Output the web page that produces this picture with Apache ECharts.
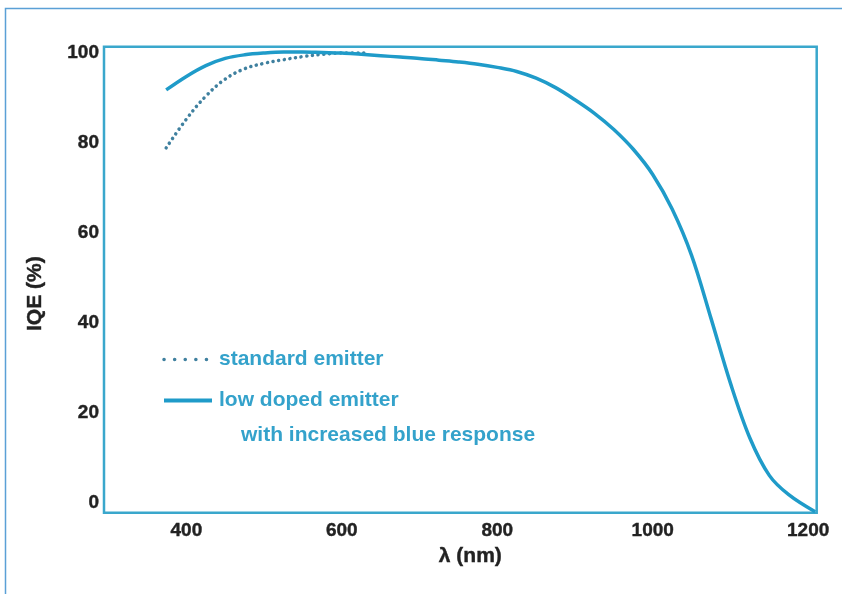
<!DOCTYPE html>
<html>
<head>
<meta charset="utf-8">
<script src="https://cdn.jsdelivr.net/npm/echarts@6/dist/echarts.min.js"></script>
<style>
    html, body {margin: 0; padding: 0; background: #fff;}
    #chart {width: 842px; height: 594px;}
</style>
</head>
<body>
<div id="chart"></div>
<script>
// wavelength (nm) / IQE (%)
var lowDoped = [
    [374, 91.8], [400, 94.8], [425, 97.2], [450, 98.8], [475, 99.6],
    [500, 100.0], [525, 100.2], [550, 100.2], [575, 100.1], [600, 100.0],
    [625, 99.7], [650, 99.4], [675, 99.1], [700, 98.8], [725, 98.4],
    [750, 98.0], [775, 97.5], [800, 96.8], [825, 95.9], [850, 94.4],
    [875, 92.3], [900, 89.6], [925, 86.6], [950, 83.0], [975, 78.6],
    [1000, 73.0], [1025, 65.3], [1050, 55.0], [1075, 41.0], [1100, 26.6],
    [1125, 14.4], [1150, 6.1], [1175, 1.8], [1209, -2.0]
];
var standard = [
    [374, 78.9], [400, 85.3], [425, 90.4], [450, 94.2], [475, 96.5],
    [500, 97.7], [525, 98.5], [550, 99.2], [575, 99.7], [600, 100.0],
    [630, 100.0]
];
var xTicks = [400, 600, 800, 1000, 1200];
var yTicks = [0, 20, 40, 60, 80, 100];

var lineBlue = '#1f9bc9';
var dotBlue = '#3f809f';
var boxBlue = '#3aa7cc';
var textBlue = '#34a2cb';
var labelFont = {
    fontFamily: 'Liberation Sans', fontWeight: 'bold', fontSize: 19, color: '#222',
    textBorderColor: '#222', textBorderWidth: 0.4
};
var nameFont = {
    fontFamily: 'Liberation Sans', fontWeight: 'bold', fontSize: 21, color: '#222',
    textBorderColor: '#222', textBorderWidth: 0.4
};

var chart = echarts.init(document.getElementById('chart'));
chart.setOption({
    backgroundColor: '#fff',
    animation: false,
    title: {
        text: 'with increased blue response',
        left: 236,
        top: 420,
        textStyle: {fontFamily: 'Liberation Sans', fontWeight: 'bold', fontSize: 21, color: textBlue}
    },
    legend: {
        orient: 'vertical',
        left: 157,
        top: 344,
        itemWidth: 48,
        itemHeight: 14,
        itemGap: 20,
        itemStyle: {opacity: 0},
        data: [
            {name: 'standard emitter', lineStyle: {width: 3.5, type: [0.1, 10.5], cap: 'round', color: dotBlue}},
            {name: 'low doped emitter', lineStyle: {width: 4, type: 'solid', color: lineBlue}}
        ],
        textStyle: {fontFamily: 'Liberation Sans', fontWeight: 'bold', fontSize: 21, color: textBlue, padding: [0, 0, 0, 2]}
    },
    graphic: [{
        type: 'polyline',
        shape: {points: [[5.5, 600], [5.5, 8.5], [850, 8.5]]},
        style: {stroke: '#5aa0d6', lineWidth: 1.5, fill: null},
        silent: true
    }],
    grid: {
        left: 104, top: 46.7, right: 25.3, bottom: 81.3,
        show: true, borderColor: boxBlue, borderWidth: 2.5, backgroundColor: 'transparent'
    },
    xAxis: {
        type: 'value',
        min: 294,
        max: 1211,
        name: 'λ (nm)',
        nameLocation: 'middle',
        nameGap: 30,
        nameTextStyle: Object.assign({padding: [0, 0, 0, 20]}, nameFont),
        axisLine: {show: false},
        axisTick: {show: false},
        splitLine: {show: false},
        axisLabel: Object.assign({
            customValues: xTicks, margin: 9,
            formatter: function (v) { return String(v); }
        }, labelFont)
    },
    yAxis: {
        type: 'value',
        min: -2.2,
        max: 101.4,
        name: 'IQE (%)',
        nameLocation: 'middle',
        nameGap: 58,
        nameTextStyle: Object.assign({padding: [0, 28, 0, 0]}, nameFont),
        axisLine: {show: false},
        axisTick: {show: false},
        splitLine: {show: false},
        axisLabel: Object.assign({customValues: yTicks, margin: 5}, labelFont)
    },
    series: [
        {
            name: 'standard emitter',
            type: 'line',
            data: standard,
            smooth: 0.4,
            symbol: 'none',
            color: dotBlue,
            lineStyle: {width: 3.5, type: [0.1, 5.6], cap: 'round', color: dotBlue},
            z: 2
        },
        {
            name: 'low doped emitter',
            type: 'line',
            data: lowDoped,
            smooth: 0.35,
            symbol: 'none',
            color: lineBlue,
            lineStyle: {width: 3.5, color: lineBlue},
            z: 3
        }
    ]
});
</script>
</body>
</html>
